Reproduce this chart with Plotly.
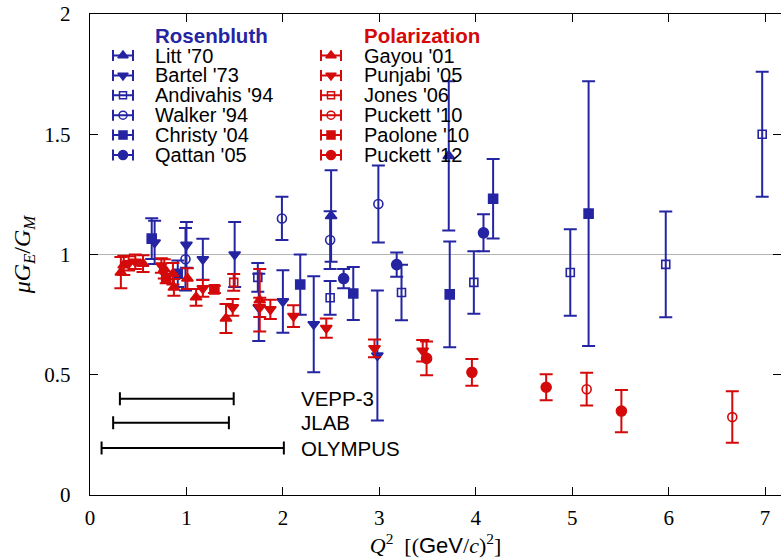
import plotly.graph_objects as go

# ---------------- data ----------------
BLUE = "#2525A3"
RED = "#D40A0A"

litt_x = [2.5, 3.72]
litt_y = [1.16, 1.41]
litt_e = [0.19, 0.31]

bartel_x = [0.67, 1.0, 1.17, 1.5, 1.75, 2.0, 2.32, 2.98]
bartel_y = [1.05, 1.04, 0.98, 1.0, 0.78, 0.805, 0.71, 0.58]
bartel_e = [0.09, 0.095, 0.085, 0.135, 0.14, 0.13, 0.2, 0.27]

andiv_x = [1.74, 2.49, 3.23, 3.98, 4.98, 5.97, 6.97]
andiv_y = [0.905, 0.82, 0.842, 0.884, 0.925, 0.959, 1.50]
andiv_e = [0.06, 0.07, 0.115, 0.13, 0.18, 0.22, 0.26]

walker_x = [0.99, 1.99, 2.49, 2.99]
walker_y = [0.98, 1.15, 1.06, 1.21]
walker_e = [0.13, 0.09, 0.12, 0.16]

christy_x = [0.64, 0.91, 2.18, 2.73, 3.73, 4.18, 5.17]
christy_y = [1.066, 0.92, 0.875, 0.838, 0.834, 1.232, 1.17]
christy_e = [0.085, 0.055, 0.125, 0.11, 0.22, 0.165, 0.55]

qattan_x = [2.63, 3.18, 4.08]
qattan_y = [0.90, 0.958, 1.09]
qattan_e = [0.04, 0.05, 0.077]

gayou_x = [0.32, 0.35, 0.55, 0.77, 0.86, 0.87, 1.01, 1.10, 1.41, 1.76]
gayou_y = [0.925, 0.955, 0.962, 0.94, 0.92, 0.863, 0.90, 0.822, 0.734, 0.81]
gayou_e = [0.065, 0.04, 0.035, 0.04, 0.045, 0.035, 0.043, 0.035, 0.06, 0.13]

punjabi_x = [0.40, 0.47, 0.74, 1.17, 1.48, 1.76, 1.87, 2.11, 2.45, 2.95, 3.45]
punjabi_y = [0.963, 0.97, 0.954, 0.859, 0.78, 0.78, 0.772, 0.744, 0.694, 0.61, 0.60]
punjabi_e = [0.03, 0.03, 0.03, 0.035, 0.035, 0.04, 0.04, 0.045, 0.04, 0.037, 0.045]

jones_x = [1.49]
jones_y = [0.884]
jones_e = [0.035]

puck10_x = [5.15, 6.66]
puck10_y = [0.44, 0.324]
puck10_e = [0.068, 0.107]

paolone_x = [0.79, 1.29]
paolone_y = [0.90, 0.855]
paolone_e = [0.02, 0.015]

puck12_x = [3.49, 3.96, 4.73, 5.51]
puck12_y = [0.568, 0.51, 0.448, 0.349]
puck12_e = [0.07, 0.056, 0.054, 0.088]

# experiment Q^2 coverage
exp_names = ["VEPP-3", "JLAB", "OLYMPUS"]
exp_lo = [0.31, 0.24, 0.12]
exp_hi = [1.49, 1.44, 2.01]

x_ticks = [0, 1, 2, 3, 4, 5, 6, 7]
y_ticks = [0, 0.5, 1, 1.5, 2]
y_ticktext = ["0", "0.5", "1", "1.5", "2"]

# ---------------- styling / layout ----------------
W, H = 781, 558
ML, MR, MT, MB = 90, 0, 14, 63
SERIF = "Liberation Serif"
SANS = "Liberation Sans"

series = [
    ("Litt '70", litt_x, litt_y, litt_e, BLUE, "triangle-up", 10),
    ("Bartel '73", bartel_x, bartel_y, bartel_e, BLUE, "triangle-down", 10),
    ("Andivahis '94", andiv_x, andiv_y, andiv_e, BLUE, "square-open", 8),
    ("Walker '94", walker_x, walker_y, walker_e, BLUE, "circle-open", 9),
    ("Christy '04", christy_x, christy_y, christy_e, BLUE, "square", 9),
    ("Qattan '05", qattan_x, qattan_y, qattan_e, BLUE, "circle", 10),
    ("Gayou '01", gayou_x, gayou_y, gayou_e, RED, "triangle-up", 10),
    ("Punjabi '05", punjabi_x, punjabi_y, punjabi_e, RED, "triangle-down", 10),
    ("Jones '06", jones_x, jones_y, jones_e, RED, "square-open", 8),
    ("Puckett '10", puck10_x, puck10_y, puck10_e, RED, "circle-open", 9),
    ("Paolone '10", paolone_x, paolone_y, paolone_e, RED, "square", 9),
    ("Puckett '12", puck12_x, puck12_y, puck12_e, RED, "circle", 10),
]

fig = go.Figure()

for name, xs, ys, es, col, sym, sz in series:
    fig.add_trace(go.Scatter(
        x=xs, y=ys, mode="markers", name=name, showlegend=False,
        marker=dict(symbol=sym, size=sz, color=col, line=dict(color=col, width=1.6)),
        error_y=dict(type="data", array=es, visible=True, color=col, thickness=2, width=6.5),
    ))

# Q^2 coverage brackets
EXP_Y = [0.40, 0.30, 0.195]
for nm, lo, hi, yy in zip(exp_names, exp_lo, exp_hi, EXP_Y):
    fig.add_trace(go.Scatter(
        x=[(lo + hi) / 2], y=[yy], mode="markers", showlegend=False,
        marker=dict(size=1, color="rgba(0,0,0,0)"),
        error_x=dict(type="data", array=[(hi - lo) / 2], visible=True,
                     color="black", thickness=2, width=6.5),
    ))
    fig.add_annotation(x=2.17, y=yy, xref="x", yref="y", text=nm, showarrow=False,
                       xanchor="left", yanchor="middle",
                       font=dict(family=SANS, size=20.5, color="black"))

# --------- hand-drawn legend on a pixel overlay axis ---------
LEG_COLS = [(123, 153, "Rosenbluth", BLUE), (331, 362, "Polarization", RED)]
LEG_TITLE_Y = 35
LEG_ROW0 = 55.5
LEG_DY = 19.9
for ci, (sx, tx, title, tcol) in enumerate(LEG_COLS):
    fig.add_annotation(x=tx, y=LEG_TITLE_Y, xref="x2", yref="y2", text="<b>%s</b>" % title,
                       showarrow=False, xanchor="left", yanchor="middle",
                       font=dict(family=SANS, size=20.5, color=tcol))
    for ri, (name, xs, ys, es, col, sym, sz) in enumerate(series[ci * 6:(ci + 1) * 6]):
        yy = LEG_ROW0 + ri * LEG_DY
        fig.add_trace(go.Scatter(
            x=[sx], y=[yy], xaxis="x2", yaxis="y2", mode="markers", showlegend=False,
            marker=dict(symbol=sym, size=sz - 1, color=col, line=dict(color=col, width=1.5)),
            error_x=dict(type="data", array=[10], visible=True, color=col, thickness=2, width=5.5),
            hoverinfo="skip",
        ))
        fig.add_annotation(x=tx, y=yy, xref="x2", yref="y2", text=name, showarrow=False,
                           xanchor="left", yanchor="middle",
                           font=dict(family=SANS, size=20, color="black"))

fig.add_hline(y=1, line=dict(color="#b4b4b4", width=1.2), layer="below")

axis_common = dict(
    showline=True, linecolor="black", linewidth=1.4, mirror="ticks",
    ticks="inside", ticklen=8, tickwidth=1.1, tickcolor="black",
    showgrid=False, zeroline=False, automargin=False,
    tickfont=dict(family=SERIF, size=21, color="black"),
)

fig.update_layout(
    width=W, height=H,
    margin=dict(l=ML, r=MR, t=MT, b=MB),
    plot_bgcolor="white", paper_bgcolor="white",
    showlegend=False,
    xaxis=dict(range=[0, 7.165], tickvals=x_ticks, ticklabelstandoff=4,
               title=dict(text="<i>Q</i><sup>2</sup>  [(<span style='font-family:Liberation Sans'>GeV</span>/<i>c</i>)<sup>2</sup>]",
                          font=dict(family=SERIF, size=22, color="black"), standoff=0),
               **axis_common),
    yaxis=dict(range=[0, 2], tickvals=y_ticks, ticktext=y_ticktext, ticklabelstandoff=14,
               title=dict(text="<i>μG</i><sub><i>E</i></sub>/<i>G</i><sub><i>M</i></sub>",
                          font=dict(family=SERIF, size=24, color="black"), standoff=6),
               **axis_common),
    xaxis2=dict(overlaying="x", range=[ML, W - MR], visible=False, fixedrange=True),
    yaxis2=dict(overlaying="y", range=[H - MB, MT], visible=False, fixedrange=True),
)

fig.write_html("out.html", config={"displayModeBar": False},
               post_script="document.body.style.margin='0';document.body.style.overflow='hidden';")
